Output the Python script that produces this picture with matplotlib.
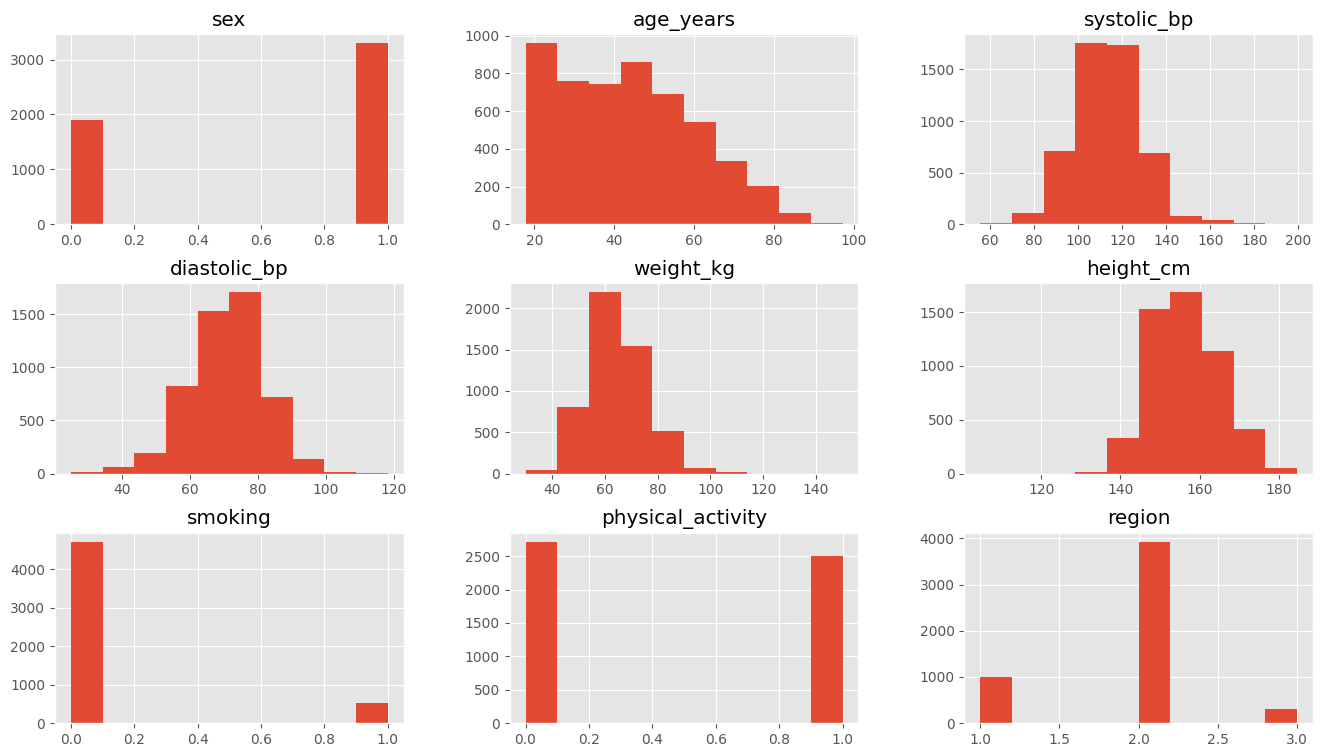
import numpy as np
import matplotlib
matplotlib.use("Agg")
import matplotlib.pyplot as plt

# column names in pandas df.hist() order
columns = ["sex", "age_years", "systolic_bp",
           "diastolic_bp", "weight_kg", "height_cm",
           "smoking", "physical_activity", "region"]

# value range (min, max) of each column, 10 equal bins between them
ranges = {
    "sex": (0, 1),
    "age_years": (17.8, 97.1),
    "systolic_bp": (55.5, 199.5),
    "diastolic_bp": (24.8, 118.3),
    "weight_kg": (30, 150),
    "height_cm": (104.6, 184.6),
    "smoking": (0, 1),
    "physical_activity": (0, 1),
    "region": (1, 3),
}

# counts per bin
sex_counts = [1895, 0, 0, 0, 0, 0, 0, 0, 0, 3300]
age_counts = [961, 759, 745, 863, 692, 544, 335, 201, 60, 9]
systolic_counts = [16, 109, 707, 1756, 1740, 695, 80, 42, 16, 1]
diastolic_counts = [19, 65, 190, 822, 1533, 1704, 717, 134, 12, 6]
weight_counts = [40, 800, 2190, 1545, 513, 72, 24, 2, 0, 1]
height_counts = [1, 0, 1, 18, 330, 1526, 1683, 1142, 418, 55]
smoking_counts = [4721, 0, 0, 0, 0, 0, 0, 0, 0, 515]
activity_counts = [2717, 0, 0, 0, 0, 0, 0, 0, 0, 2510]
region_counts = [993, 0, 0, 0, 0, 3929, 0, 0, 0, 307]

counts = {
    "sex": sex_counts,
    "age_years": age_counts,
    "systolic_bp": systolic_counts,
    "diastolic_bp": diastolic_counts,
    "weight_kg": weight_counts,
    "height_cm": height_counts,
    "smoking": smoking_counts,
    "physical_activity": activity_counts,
    "region": region_counts,
}

plt.style.use("ggplot")
fig, axes = plt.subplots(3, 3, figsize=(13.2, 7.49), dpi=100)
fig.subplots_adjust(left=0.0417, right=0.9947, top=0.9546, bottom=0.0347,
                    wspace=0.304, hspace=0.31)

for ax, col in zip(axes.flat, columns):
    lo, hi = ranges[col]
    edges = np.linspace(lo, hi, 11)
    ax.hist(edges[:-1], bins=edges, weights=counts[col])
    ax.set_title(col)
    ax.grid(True)

fig.savefig("out.png", dpi=100)
